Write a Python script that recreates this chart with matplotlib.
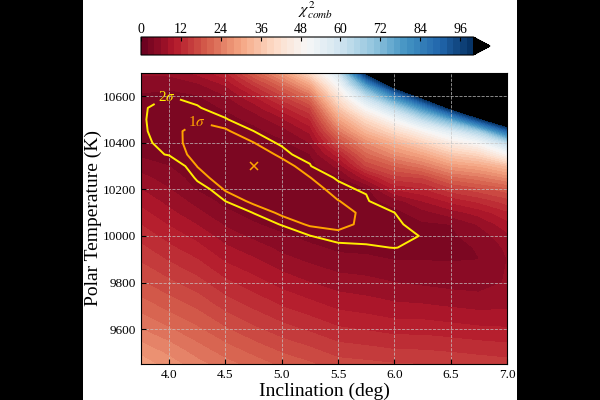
import numpy as np
import matplotlib
matplotlib.use("Agg")
import matplotlib.pyplot as plt
from matplotlib.patches import Rectangle

plt.rcParams['font.family'] = 'serif'
plt.rcParams['font.serif'] = ['Liberation Serif', 'DejaVu Serif']
plt.rcParams['mathtext.fontset'] = 'stix'

# grid of the chi^2 map
incl = [3.75, 4.0, 4.25, 4.5, 4.75, 5.0, 5.25, 5.5, 5.75, 6.0, 6.25, 6.5, 6.75, 7.0]
temp = [9400, 9500, 9600, 9700, 9800, 9900, 9950, 10000, 10050, 10100, 10150,
        10200, 10250, 10300, 10350, 10400, 10450, 10500, 10550, 10600, 10650, 10700]

# one row per temperature, one column per inclination
chi2 = [
    [31.0, 28.5, 26.2, 24.2, 22.6, 21.0, 19.8, 18.4, 18.1, 17.8, 17.6, 17.2, 16.8, 16.5],
    [27.5, 25.5, 23.2, 21.2, 19.5, 17.9, 16.7, 15.3, 14.9, 14.4, 14.3, 14.0, 13.6, 13.2],
    [24.0, 22.2, 20.3, 18.2, 16.4, 14.8, 13.6, 12.3, 11.8, 11.2, 11.2, 10.8, 10.4, 10.2],
    [21.0, 19.2, 17.5, 15.2, 13.5, 11.9, 10.7, 9.5, 9.0, 8.4, 8.2, 7.8, 7.4, 7.6],
    [18.2, 16.4, 14.7, 12.4, 10.8, 9.2, 8.0, 7.0, 6.6, 6.0, 5.6, 5.2, 5.0, 6.2],
    [15.6, 13.7, 12.0, 9.6, 8.2, 6.6, 5.5, 4.6, 4.4, 3.9, 3.9, 3.85, 3.98, 6.0],
    [14.4, 12.4, 10.6, 8.3, 6.9, 5.4, 4.4, 3.55, 3.4, 3.28, 3.45, 3.62, 4.1, 6.4],
    [13.2, 11.1, 9.3, 7.0, 5.5, 4.3, 3.32, 2.95, 3.05, 3.17, 3.32, 3.7, 4.8, 7.4],
    [11.9, 9.8, 7.9, 5.7, 4.2, 3.2, 2.7, 2.65, 2.92, 3.16, 3.6, 4.0, 6.2, 9.2],
    [10.6, 8.5, 6.5, 4.4, 3.25, 2.65, 2.45, 2.6, 2.92, 3.28, 5.2, 7.0, 8.8, 11.5],
    [9.3, 7.3, 5.2, 3.28, 2.62, 2.38, 2.4, 2.78, 3.1, 5.0, 8.0, 10.5, 12.5, 15.0],
    [8.0, 6.1, 3.8, 2.72, 2.38, 2.26, 2.5, 3.05, 3.45, 10.0, 11.5, 15.0, 17.0, 19.0],
    [6.6, 5.0, 3.1, 2.4, 2.23, 2.3, 2.78, 3.4, 9.0, 15.0, 16.0, 21.0, 23.0, 26.0],
    [5.0, 4.0, 2.78, 2.27, 2.2, 2.5, 3.15, 6.5, 16.0, 20.0, 23.0, 28.0, 30.0, 34.0],
    [3.6, 3.24, 2.55, 2.27, 2.35, 2.95, 3.9, 11.0, 21.0, 26.0, 30.0, 36.0, 39.0, 48.0],
    [3.45, 3.08, 2.5, 2.4, 2.78, 3.45, 6.0, 17.0, 26.0, 32.0, 38.0, 45.0, 50.0, 62.0],
    [3.4, 2.98, 2.6, 2.7, 3.28, 5.0, 8.5, 23.0, 33.0, 40.0, 48.0, 56.0, 66.0, 88.0],
    [3.38, 2.96, 2.85, 3.15, 4.6, 7.5, 11.8, 29.0, 40.0, 50.0, 62.0, 75.0, 96.0, 118.0],
    [3.38, 3.05, 3.15, 4.2, 6.8, 11.0, 16.0, 35.5, 50.0, 63.0, 80.0, 102.0, 125.0, 145.0],
    [3.7, 3.28, 3.8, 5.8, 9.8, 15.5, 22.0, 42.5, 62.0, 82.0, 104.0, 130.0, 155.0, 175.0],
    [4.8, 4.6, 5.6, 8.2, 14.2, 21.0, 30.0, 50.0, 78.0, 107.0, 130.0, 160.0, 185.0, 205.0],
    [6.3, 6.5, 8.5, 11.5, 20.0, 28.0, 40.0, 58.0, 102.0, 135.0, 160.0, 190.0, 215.0, 235.0],
]

sigma_levels = [2.8, 3.3]
sigma_names = [r'1$\sigma$', r'2$\sigma$']
sigma_colors = ['#FFA500', '#FFEE00']
label_spots = [(4.25, 10500), (3.97, 10605)]
best_fit = (4.75, 10300)
cbar_ticks = [0, 12, 24, 36, 48, 60, 72, 84, 96]

fig = plt.figure(figsize=(6, 4), dpi=100)
# black side bands of the original image
fig.add_artist(Rectangle((0, 0), 83 / 600, 1, transform=fig.transFigure,
                         facecolor='black', edgecolor='none'))
fig.add_artist(Rectangle((517 / 600, 0), 83 / 600, 1, transform=fig.transFigure,
                         facecolor='black', edgecolor='none'))

ax = fig.add_axes([141 / 600, 36 / 400, 366 / 600, 291 / 400])
cax = fig.add_axes([141 / 600, 345 / 400, 349 / 600, 18 / 400])

cmap = plt.get_cmap('RdBu').copy()
cmap.set_over('black')

X, Y = np.meshgrid(incl, temp)
Z = np.array(chi2)
cf = ax.contourf(X, Y, Z, levels=np.arange(0, 101, 2), cmap=cmap, extend='max')

cs = ax.contour(X, Y, Z, levels=sigma_levels, colors=sigma_colors, linewidths=1.4)
labels = ax.clabel(cs, fmt=dict(zip(cs.levels, sigma_names)), manual=label_spots,
                   inline=True, fontsize=11)
for t in labels:
    t.set_rotation(0)

ax.plot(best_fit[0], best_fit[1], 'x', color='#FFA500', ms=6, mew=1.1)

ax.set_xlim(3.75, 7.0)
ax.set_ylim(9450, 10700)
ax.set_xticks([4.0, 4.5, 5.0, 5.5, 6.0, 6.5, 7.0])
ax.set_yticks([9600, 9800, 10000, 10200, 10400, 10600])
ax.grid(True, ls='--', color='#c8c8c8', lw=0.6, alpha=0.8)
ax.tick_params(direction='in', labelsize=9.5)
ax.set_xlabel('Inclination (deg)', fontsize=14, labelpad=1)
ax.set_ylabel('Polar Temperature (K)', fontsize=14, labelpad=0.5)

cbar = fig.colorbar(cf, cax=cax, orientation='horizontal', ticks=cbar_ticks)
cax.xaxis.set_ticks_position('top')
cax.xaxis.set_label_position('top')
cax.tick_params(direction='in', labelsize=10, length=3, pad=1)
fig.text(315 / 600, 1 - 21 / 400, r'$\chi^2_{comb}$', fontsize=11.5,
         ha='center', va='bottom')

fig.savefig('out.png', dpi=100)
